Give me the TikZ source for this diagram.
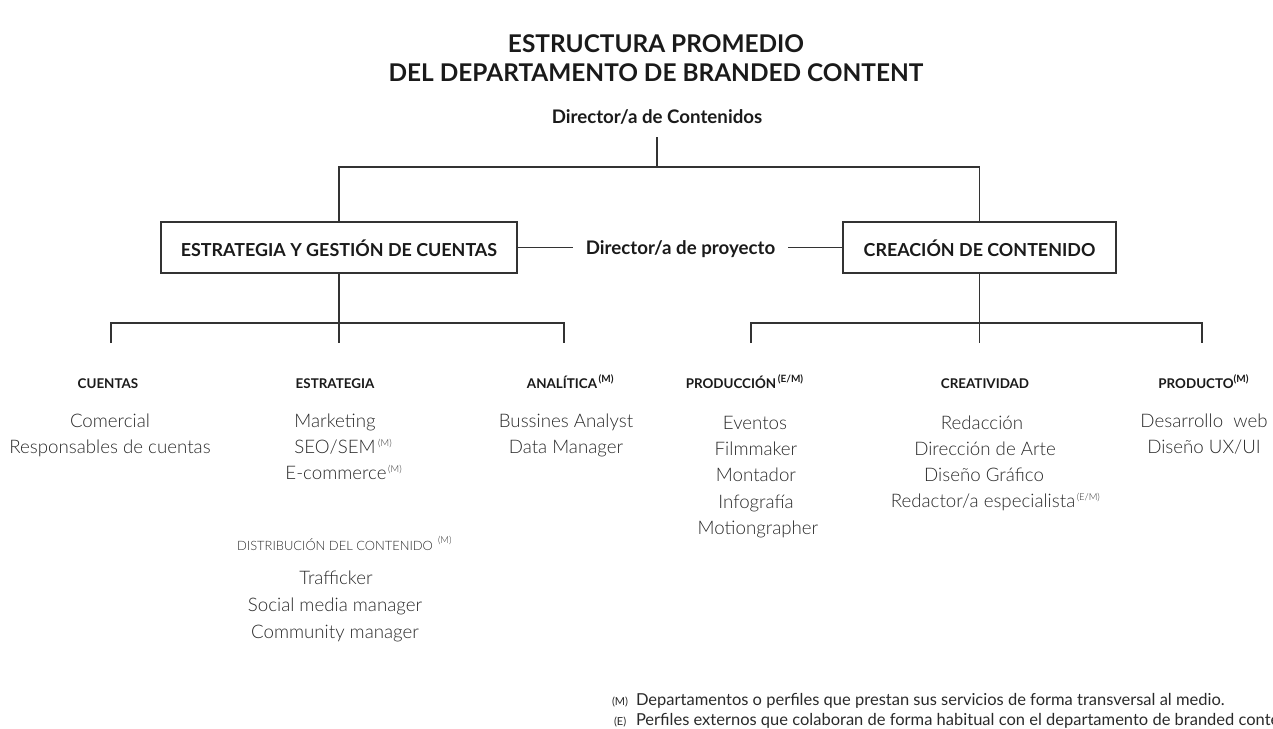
\documentclass[tikz,border=0pt]{standalone}
\usepackage{fontspec}
\setmainfont{Lato}
\newfontfamily\lightfont{Lato Light}
\definecolor{ink}{HTML}{1A1A1A}
\definecolor{itemc}{HTML}{2A2A2A}
\definecolor{linec}{HTML}{333333}
\newcommand\fs[1]{\fontsize{#1}{#1}\selectfont}
\newcommand\supl[1]{\rlap{\raisebox{7pt}{\fs{9.5}#1}}}
\newcommand\suph[1]{\rlap{\raisebox{6pt}{\fs{10}\bfseries #1}}}
\begin{document}
\begin{tikzpicture}[x=1pt,y=-1pt,
  every node/.style={inner sep=0pt, outer sep=0pt, text=ink},
  ttl/.style={font=\fs{24.4}\bfseries, anchor=base},
  dirn/.style={font=\fs{18.7}\bfseries, anchor=base},
  box/.style={draw=linec, line width=1.3pt, minimum height=51pt, text height=17pt, text depth=0pt, font=\fs{17.9}\bfseries},
  hdr/.style={font=\fs{13.4}\bfseries, anchor=base},
  itm/.style={font=\lightfont\fs{18.7}, text=itemc, anchor=base},
  dst/.style={font=\lightfont\fs{12.9}, text=itemc, anchor=base},
  fn/.style={font=\fs{16.5}, text=itemc, anchor=base west},
  ln/.style={draw=linec, line width=1.3pt}
]
\useasboundingbox (0,0) rectangle (1273,728);
\clip (0,0) rectangle (1273,728);

% title
\node[ttl] (t1) at (656,52) {ESTRUCTURA PROMEDIO};
\node[ttl] (t2) at (656,81) {DEL DEPARTAMENTO DE BRANDED CONTENT};

% top
\node[dirn] (dir) at (657,123) {Director/a de Contenidos};
\node[box, minimum width=356pt] (L) at (339,247.5) {ESTRATEGIA Y GESTIÓN DE CUENTAS};
\node[box, minimum width=273pt] (R) at (979.5,247.5) {CREACIÓN DE CONTENIDO};
\node[dirn, inner xsep=13pt] (proj) at (680.5,254) {Director/a de proyecto};

\coordinate (dt) at (657,137);
\coordinate (tj) at (657,167);
\draw[ln] (dt) -- (tj);
\draw[ln] (L.north) -- (L.north |- tj) -- (R.north |- tj) -- (R.north);
\draw[ln] (L.east) -- (proj.west |- L.east);
\draw[ln] (proj.east |- R.west) -- (R.west);

% left subtree
\coordinate (ljt) at (339,323);
\coordinate (d1) at (111,343);
\coordinate (d2) at (339,343);
\coordinate (d3) at (564,343);
\draw[ln] (L.south) -- (ljt);
\draw[ln] (d1) -- (d1 |- ljt) -- (d3 |- ljt) -- (d3);
\draw[ln] (ljt) -- (d2);

% right subtree
\coordinate (rjt) at (979.5,323);
\coordinate (e1) at (751,343);
\coordinate (e2) at (979.5,343);
\coordinate (e3) at (1202,343);
\draw[ln] (R.south) -- (rjt);
\draw[ln] (e1) -- (e1 |- rjt) -- (e3 |- rjt) -- (e3);
\draw[ln] (rjt) -- (e2);

% headers
\node[hdr] (h1) at (108,388) {CUENTAS};
\node[hdr] (h2) at (335,388) {ESTRATEGIA};
\node[hdr] (h3) at (562,388) {ANALÍTICA\suph{\,(M)}};
\node[hdr] (h4) at (731,388) {PRODUCCIÓN\suph{\,(E/M)}};
\node[hdr] (h5) at (985,388) {CREATIVIDAD};
\node[hdr] (h6) at (1196,388) {PRODUCTO\suph{(M)}};

% items
\node[itm] (a1) at (110,427) {Comercial};
\node[itm] (a2) at (110,453) {Responsables de cuentas};

\node[itm] (b1) at (335,427) {Marketing};
\node[itm] (b2) at (335,453) {SEO/SEM\supl{\ (M)}};
\node[itm] (b3) at (336,479) {E-commerce\supl{\,(M)}};

\node[dst] (bd) at (335,550) {DISTRIBUCIÓN DEL CONTENIDO\supl{\ \ (M)}};
\node[itm] (b4) at (336,584) {Trafficker};
\node[itm] (b5) at (335,611) {Social media manager};
\node[itm] (b6) at (335,638) {Community manager};

\node[itm] (c1) at (566,427) {Bussines Analyst};
\node[itm] (c2) at (566,453) {Data Manager};

\node[itm] (p1) at (755,429) {Eventos};
\node[itm] (p2) at (756,455) {Filmmaker};
\node[itm] (p3) at (756,481) {Montador};
\node[itm] (p4) at (756,508) {Infografía};
\node[itm] (p5) at (758,534) {Motiongrapher};

\node[itm] (r1) at (982,429) {Redacción};
\node[itm] (r2) at (985,455) {Dirección de Arte};
\node[itm] (r3) at (984,481) {Diseño Gráfico};
\node[itm] (r4) at (983,507) {Redactor/a especialista\supl{\,(E/M)}};

\node[itm] (q1) at (1204,427) {Desarrollo\ \ web};
\node[itm] (q2) at (1204,453) {Diseño UX/UI};

% footnotes
\node[fn] (f1) at (612,705) {\makebox[24pt][l]{\fs{11}(M)}Departamentos o perfiles que prestan sus servicios de forma transversal al medio.};
\node[fn] (f2) at (614,725) {\makebox[22pt][l]{\fs{11}(E)}Perfiles externos que colaboran de forma habitual con el departamento de branded contenido.};
\end{tikzpicture}
\end{document}
